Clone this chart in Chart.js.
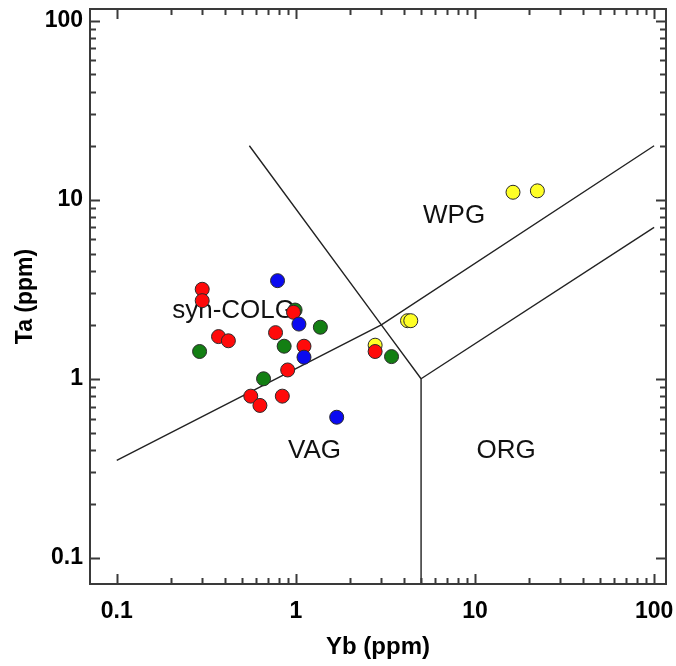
<!DOCTYPE html>
<html>
<head>
<meta charset="utf-8">
<title>Ta vs Yb</title>
<script src="https://cdn.jsdelivr.net/npm/chart.js@4.4.1/dist/chart.umd.min.js"></script>
<style>
  html, body { margin: 0; padding: 0; background: #fff; }
  #wrap { width: 676px; height: 666px; }
</style>
</head>
<body>
<div id="wrap"><canvas id="plot" width="676" height="666"></canvas></div>
<script>
    // Sample groups (Yb, Ta in ppm)
    var redYb    = [0.30, 0.30, 0.97, 0.37, 0.42, 0.77, 1.11, 0.90, 0.56, 0.84, 0.63, 2.77];
    var redTa    = [3.16, 2.73, 2.35, 1.72, 1.63, 1.81, 1.52, 1.12, 0.80, 0.80, 0.71, 1.42];
    var greenYb  = [0.99, 1.37, 0.86, 0.29, 0.66, 3.42];
    var greenTa  = [2.42, 1.94, 1.52, 1.42, 1.00, 1.33];
    var blueYb   = [0.79, 1.04, 1.11, 1.69];
    var blueTa   = [3.53, 2.02, 1.32, 0.61];
    var yellowYb = [16.3, 22.3, 4.20, 4.38, 2.77];
    var yellowTa = [11.0, 11.2, 2.11, 2.11, 1.54];

    // Field boundaries (Yb, Ta)
    var vagWpgLine = [[0.1, 0.35], [3, 2], [100, 20]];
    var wpgCutLine = [[0.55, 20], [3, 2], [5, 1]];
    var orgUpper   = [[5, 1], [100, 7]];
    var orgLeft    = [[5, 1], [5, 0.05]];

    // Field names
    var fieldNames = ['WPG', 'syn-COLG', 'VAG', 'ORG'];
    var fieldYb    = [7.64, 0.449, 1.27, 14.9];
    var fieldTa    = [8.2, 2.44, 0.40, 0.40];

    // Axis ticks
    var decadeTicks = [0.1, 1, 10, 100];
    var decadeLabels = ['0.1', '1', '10', '100'];
    var minorSteps = [2, 3, 4, 5, 6, 7, 8, 9];

    var FONT = "'Liberation Sans', Arial, Helvetica, sans-serif";

    function pts(xs, ys) {
        return xs.map(function (x, i) { return { x: x, y: ys[i] }; });
    }
    function pairs(list) {
        return list.map(function (p) { return { x: p[0], y: p[1] }; });
    }

    function groupSet(label, xs, ys, color, order) {
        return {
            label: label,
            data: pts(xs, ys),
            backgroundColor: color,
            borderColor: '#2a2a2a',
            borderWidth: 1,
            pointRadius: 7,
            order: order
        };
    }

    function boundarySet(list) {
        return {
            label: 'boundary',
            data: pairs(list),
            showLine: true,
            borderColor: '#222',
            borderWidth: 1.4,
            pointRadius: 0,
            fill: false,
            order: 10
        };
    }

    // field names go under the markers
    var fieldLabels = {
        id: 'fieldLabels',
        beforeDatasetsDraw: function (chart) {
            var ctx = chart.ctx, sx = chart.scales.x, sy = chart.scales.y;
            ctx.save();
            ctx.font = '26px ' + FONT;
            ctx.fillStyle = '#111';
            ctx.textAlign = 'center';
            ctx.textBaseline = 'middle';
            fieldNames.forEach(function (name, i) {
                ctx.fillText(name, sx.getPixelForValue(fieldYb[i]), sy.getPixelForValue(fieldTa[i]) + 1);
            });
            ctx.restore();
        }
    };

    // box frame with inward ticks on all four sides
    var frame = {
        id: 'frame',
        afterDraw: function (chart) {
            var ctx = chart.ctx, a = chart.chartArea;
            var sx = chart.scales.x, sy = chart.scales.y;
            var all = [];
            decadeTicks.forEach(function (d, i) {
                all.push({ v: d, major: true });
                if (i < decadeTicks.length - 1) {
                    minorSteps.forEach(function (m) { all.push({ v: d * m, major: false }); });
                }
            });
            ctx.save();
            ctx.strokeStyle = '#3a3a3a';
            ctx.lineWidth = 2;
            ctx.beginPath();
            all.forEach(function (t) {
                var len = t.major ? 10 : 6;
                var px = Math.round(sx.getPixelForValue(t.v)) + 0.5;
                ctx.moveTo(px, a.bottom); ctx.lineTo(px, a.bottom - len);
                ctx.moveTo(px, a.top); ctx.lineTo(px, a.top + len);
                var py = Math.round(sy.getPixelForValue(t.v)) + 0.5;
                ctx.moveTo(a.left, py); ctx.lineTo(a.left + len, py);
                ctx.moveTo(a.right, py); ctx.lineTo(a.right - len, py);
            });
            ctx.stroke();
            ctx.lineWidth = 2;
            ctx.strokeRect(a.left, a.top, a.right - a.left, a.bottom - a.top);
            ctx.restore();
        }
    };

    function decadeLabel(v) {
        var i = decadeTicks.indexOf(Number(v));
        return i < 0 ? '' : decadeLabels[i];
    }

    function setDecades(scale) {
        scale.ticks = decadeTicks.map(function (v) { return { value: v }; });
    }

    new Chart(document.getElementById('plot'), {
        type: 'scatter',
        data: {
            datasets: [
                groupSet('blue', blueYb, blueTa, '#0a0af0', 1),
                groupSet('red', redYb, redTa, '#ff0a0a', 2),
                groupSet('yellow', yellowYb, yellowTa, '#ffff26', 3),
                groupSet('green', greenYb, greenTa, '#137f13', 4),
                boundarySet(vagWpgLine),
                boundarySet(wpgCutLine),
                boundarySet(orgUpper),
                boundarySet(orgLeft)
            ]
        },
        options: {
            responsive: false,
            animation: false,
            events: [],
            layout: { padding: { top: 9, right: 10, left: 0, bottom: 0 } },
            plugins: {
                legend: { display: false },
                tooltip: { enabled: false }
            },
            scales: {
                x: {
                    type: 'logarithmic',
                    position: 'bottom',
                    min: 0.0709,
                    max: 116.5,
                    afterBuildTicks: setDecades,
                    afterFit: function (s) {
                        s.height = 82;
                        s.paddingLeft = 0;
                        s.paddingRight = 0;
                    },
                    grid: { display: false, drawTicks: false },
                    border: { display: false },
                    ticks: {
                        autoSkip: false,
                        maxRotation: 0,
                        padding: 14,
                        color: '#000',
                        font: { family: FONT, size: 23, weight: 'bold' },
                        callback: decadeLabel
                    },
                    title: {
                        display: true,
                        text: 'Yb (ppm)',
                        color: '#000',
                        font: { family: FONT, size: 24, weight: 'bold' },
                        padding: { top: 4, bottom: 4 }
                    }
                },
                y: {
                    type: 'logarithmic',
                    position: 'left',
                    min: 0.0715,
                    max: 116,
                    afterBuildTicks: setDecades,
                    afterFit: function (s) {
                        s.width = 90;
                        s.paddingTop = 0;
                        s.paddingBottom = 0;
                    },
                    grid: { display: false, drawTicks: false },
                    border: { display: false },
                    ticks: {
                        autoSkip: false,
                        padding: 7,
                        color: '#000',
                        font: { family: FONT, size: 23, weight: 'bold' },
                        callback: decadeLabel
                    },
                    title: {
                        display: true,
                        text: 'Ta (ppm)',
                        color: '#000',
                        font: { family: FONT, size: 23, weight: 'bold' },
                        padding: { top: 12, bottom: 4 }
                    }
                }
            }
        },
        plugins: [fieldLabels, frame]
    });
</script>
</body>
</html>
